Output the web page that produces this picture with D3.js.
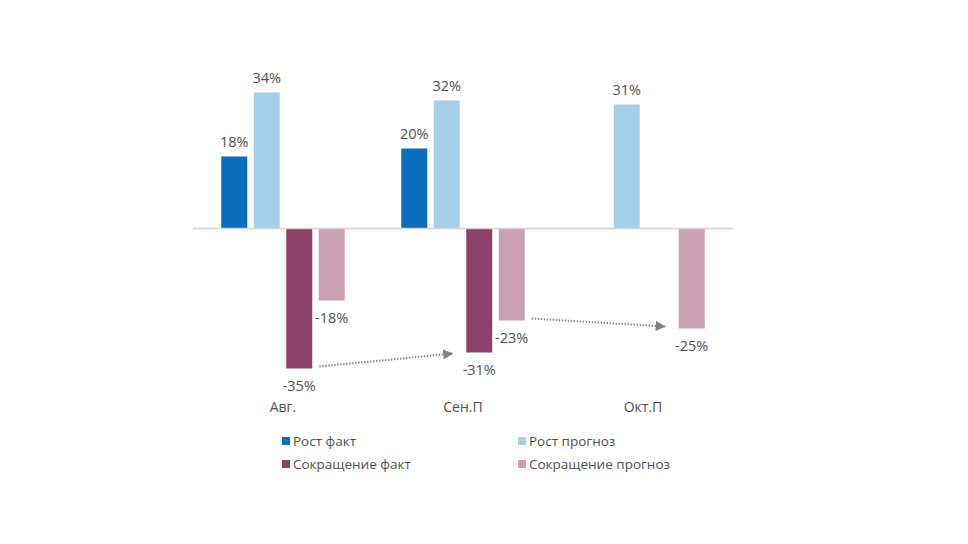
<!DOCTYPE html>
<html>
<head>
<meta charset="utf-8">
<script src="https://cdn.jsdelivr.net/npm/d3@7"></script>
<style>
  html, body { margin: 0; padding: 0; background: #fff; }
  svg { display: block; font-family: "Open Sans", "Noto Sans", sans-serif; }
</style>
</head>
<body>
<svg id="chart" width="968" height="544"></svg>
<script>
// ---- data ----
const categories = ["Авг.", "Сен.П", "Окт.П"];
const seriesNames = ["Рост факт", "Рост прогноз", "Сокращение факт", "Сокращение прогноз"];
const rostFakt      = [18, 20, null];
const rostPrognoz   = [34, 32, 31];
const sokrFakt      = [-35, -31, null];
const sokrPrognoz   = [-18, -23, -25];
const seriesColors  = ["#0a6ebd", "#a6cfe8", "#8c4168", "#c9a0b2"];
// arrows: [fromCategory, fromSeries, toCategory, toSeries]
const arrows = [
  [0, 2, 1, 2],
  [1, 3, 2, 3]
];

const seriesValues = [rostFakt, rostPrognoz, sokrFakt, sokrPrognoz];

const svg = d3.select("#chart");

const x0 = d3.scaleBand().domain(d3.range(categories.length)).range([193, 733]).padding(0);
const x1 = d3.scaleBand().domain(d3.range(seriesNames.length))
  .range([0, x0.bandwidth()]).paddingInner(0.2).paddingOuter(0.87);
const y = d3.scaleLinear().domain([-40, 40]).range([388.5, 68.5]);

const textColor = "#505050";

// bars
const groups = svg.append("g").selectAll("g")
  .data(categories.map((c, i) => ({ c, i })))
  .join("g")
  .attr("transform", d => `translate(${x0(d.i)},0)`);

const barData = d => seriesValues.map((arr, s) => ({ s, v: arr[d.i], ci: d.i })).filter(b => b.v !== null);

groups.selectAll("rect")
  .data(barData)
  .join("rect")
  .attr("x", b => x1(b.s))
  .attr("width", x1.bandwidth())
  .attr("y", b => y(Math.max(0, b.v)))
  .attr("height", b => Math.abs(y(b.v) - y(0)))
  .attr("fill", b => seriesColors[b.s]);

groups.selectAll("text.val")
  .data(barData)
  .join("text")
  .attr("class", "val")
  .attr("x", b => x1(b.s) + x1.bandwidth() / 2)
  .attr("y", b => b.v >= 0 ? y(b.v) - 10 : y(b.v) + 22)
  .attr("text-anchor", "middle")
  .attr("font-size", 14.5)
  .attr("fill", textColor)
  .text(b => b.v + "%");

// zero line
svg.append("line")
  .attr("x1", x0.range()[0]).attr("x2", x0.range()[1])
  .attr("y1", y(0)).attr("y2", y(0))
  .attr("stroke", "#d4d4d4").attr("stroke-width", 1.5);

// category labels
svg.append("g").selectAll("text")
  .data(categories)
  .join("text")
  .attr("x", (d, i) => x0(i) + x0.bandwidth() / 2)
  .attr("y", 412)
  .attr("text-anchor", "middle")
  .attr("font-size", 14)
  .attr("fill", textColor)
  .text(d => d);

// arrows
const defs = svg.append("defs");
defs.append("marker")
  .attr("id", "arrowhead")
  .attr("viewBox", "0 0 10 10")
  .attr("refX", 10).attr("refY", 5)
  .attr("markerWidth", 12).attr("markerHeight", 10)
  .attr("markerUnits", "userSpaceOnUse")
  .attr("orient", "auto")
  .append("path").attr("d", "M0,0 L10,5 L0,10 Z").attr("fill", "#808080");

svg.append("g").selectAll("line")
  .data(arrows)
  .join("line")
  .attr("x1", a => x0(a[0]) + x1(a[1]) + x1.bandwidth() + 7)
  .attr("y1", a => y(seriesValues[a[1]][a[0]]) - 2)
  .attr("x2", a => x0(a[2]) + x1(a[3]) - 13)
  .attr("y2", a => y(seriesValues[a[3]][a[2]]) + (a[1] === 2 ? 1 : -2))
  .attr("stroke", "#8a8a8a")
  .attr("stroke-width", 2)
  .attr("stroke-dasharray", "1.5,1.5")
  .attr("marker-end", "url(#arrowhead)");

// legend
const legendPos = [[282, 441], [518, 441], [282, 464], [518, 464]];
const leg = svg.append("g").selectAll("g")
  .data(seriesNames)
  .join("g")
  .attr("transform", (d, i) => `translate(${legendPos[i][0]},${legendPos[i][1]})`);
leg.append("rect")
  .attr("x", 0).attr("y", -4).attr("width", 8).attr("height", 8)
  .attr("fill", (d, i) => seriesColors[i]);
leg.append("text")
  .attr("x", 11).attr("y", 4.5)
  .attr("font-size", 13.5)
  .attr("fill", textColor)
  .text(d => d);
</script>
</body>
</html>
